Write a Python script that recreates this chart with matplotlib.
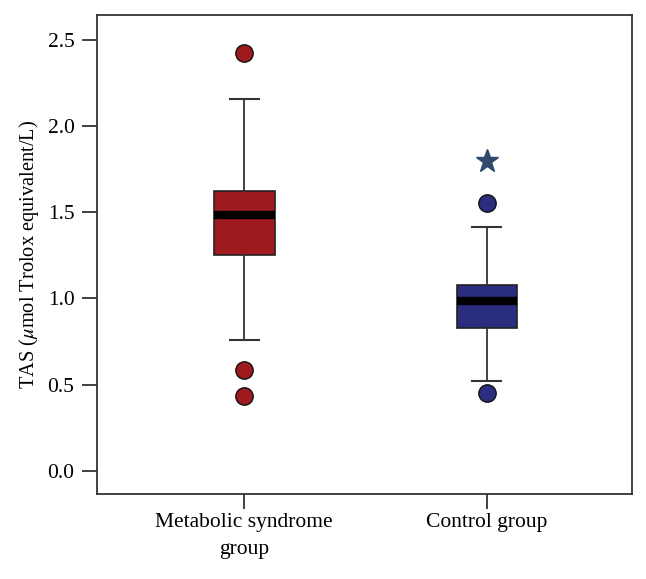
import matplotlib
matplotlib.use("Agg")
import matplotlib.pyplot as plt

# values
groups = ["Metabolic syndrome\ngroup", "Control group"]
medians = [1.484, 0.987]
q1 = [1.252, 0.826]
q3 = [1.623, 1.078]
whisker_lo = [0.758, 0.519]
whisker_hi = [2.157, 1.414]
outliers = [[2.426, 0.584, 0.434], [1.555, 0.449]]
extremes = [[], [1.799]]
colors = ["#9e1a1e", "#2b2e7e"]

plt.rcParams["font.family"] = ["Liberation Serif", "DejaVu Serif"]
plt.rcParams["mathtext.fontset"] = "stix"

fig = plt.figure(figsize=(6.46, 5.79), dpi=100)
ax = fig.add_axes([0.1497, 0.1468, 0.8291, 0.8278])

stats = []
for i in range(len(groups)):
    stats.append({"med": medians[i], "q1": q1[i], "q3": q3[i],
                  "whislo": whisker_lo[i], "whishi": whisker_hi[i],
                  "fliers": outliers[i], "label": groups[i]})

bp = ax.bxp(stats, positions=[1, 2], widths=0.25, patch_artist=True,
            capwidths=0.12,
            medianprops=dict(color="black", linewidth=6, solid_capstyle="butt"),
            whiskerprops=dict(color="#333333", linewidth=1.3),
            capprops=dict(color="#333333", linewidth=1.5),
            boxprops=dict(edgecolor="#222222", linewidth=1.2))
for patch, c in zip(bp["boxes"], colors):
    patch.set_facecolor(c)
for fl, c in zip(bp["fliers"], colors):
    fl.set(marker="o", markerfacecolor=c, markeredgecolor="#111111",
           markersize=12.5, markeredgewidth=1.0)

for i, ex in enumerate(extremes):
    if ex:
        ax.plot([i + 1] * len(ex), ex, linestyle="none", marker="*",
                markersize=17, color="#2f4a6a", markeredgecolor="#2f4a6a")

ax.set_xlim(0.392, 2.599)
ax.set_ylim(-0.135, 2.647)
ax.set_yticks([0.0, 0.5, 1.0, 1.5, 2.0, 2.5])
ax.set_yticklabels(["0.0", "0.5", "1.0", "1.5", "2.0", "2.5"])
ax.set_xticks([1, 2])
ax.set_xticklabels(groups, fontsize=15.5, linespacing=1.55)
ax.tick_params(axis="both", direction="out", length=11, width=1.3,
               color="#333333", labelsize=15.5, pad=5)
ax.tick_params(axis="x", pad=3)
for s in ax.spines.values():
    s.set_linewidth(1.3)
    s.set_color("#333333")

ax.set_ylabel(r"TAS ($\mu$mol Trolox equivalent/L)", fontsize=14.7, labelpad=5)

fig.savefig("out.png", dpi=100)
